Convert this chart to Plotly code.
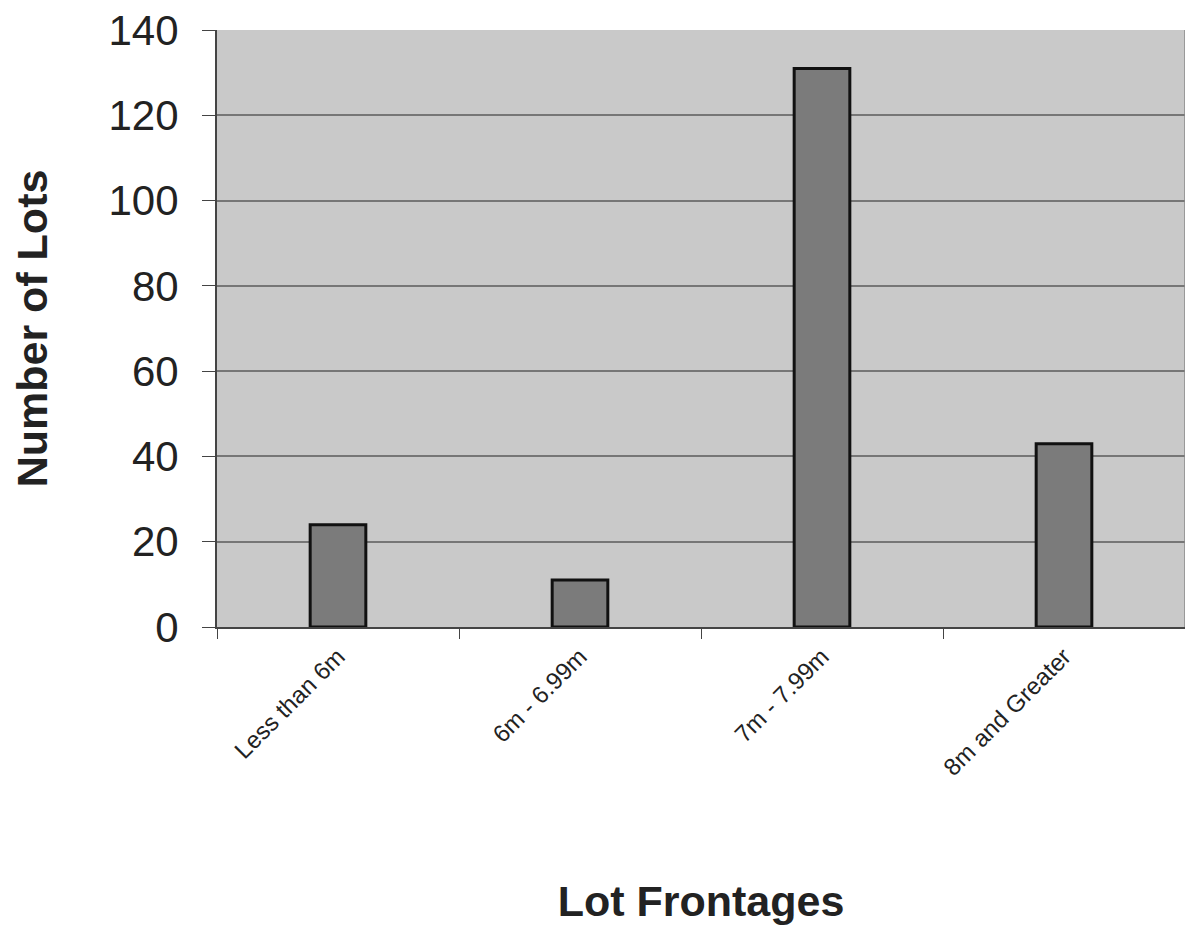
import plotly.graph_objects as go

categories = ["Less than 6m", "6m - 6.99m", "7m - 7.99m", "8m and Greater"]
lots = [24, 11, 131, 43]
y_ticks = [0, 20, 40, 60, 80, 100, 120, 140]

fig = go.Figure()
fig.add_trace(go.Bar(
    x=categories, y=lots,
    marker=dict(color="#7b7b7b", line=dict(color="#111111", width=3)),
    width=0.23,
))

# page body has an 8px margin, so the figure is sized to fit the window
fig.update_layout(
    width=1185, height=925,
    margin=dict(l=209, r=8, t=22, b=306),
    paper_bgcolor="white",
    plot_bgcolor="#c9c9c9",
    showlegend=False,
    font=dict(family="Arial, Liberation Sans, sans-serif", color="#222"),
)
fig.update_xaxes(
    automargin=False,
    tickangle=-45,
    tickfont=dict(size=24, color="#222"),
    showline=True, linecolor="#444", linewidth=2,
    mirror=False,
    ticks="outside", ticklen=10, tickcolor="#444", tickson="boundaries",
    ticklabelstandoff=4,
    title=dict(text="<b>Lot Frontages</b>", font=dict(size=43, color="#222"), standoff=106),
)
fig.update_yaxes(
    automargin=False,
    range=[0, 140],
    tickvals=y_ticks,
    tickfont=dict(size=42, color="#222"),
    ticklabeloverflow="allow",
    showgrid=True, gridcolor="#767676", gridwidth=1.5,
    showline=True, linecolor="#444", linewidth=2,
    ticks="outside", ticklen=13, tickcolor="#444",
    ticklabelstandoff=15,
    zeroline=False,
    title=dict(text="<b>Number of Lots</b>", font=dict(size=43, color="#222"), standoff=58),
)
fig.add_shape(type="line", xref="paper", yref="paper", x0=1, x1=1, y0=0, y1=1,
              line=dict(color="#888", width=1.5))

fig.write_html("out.html")
